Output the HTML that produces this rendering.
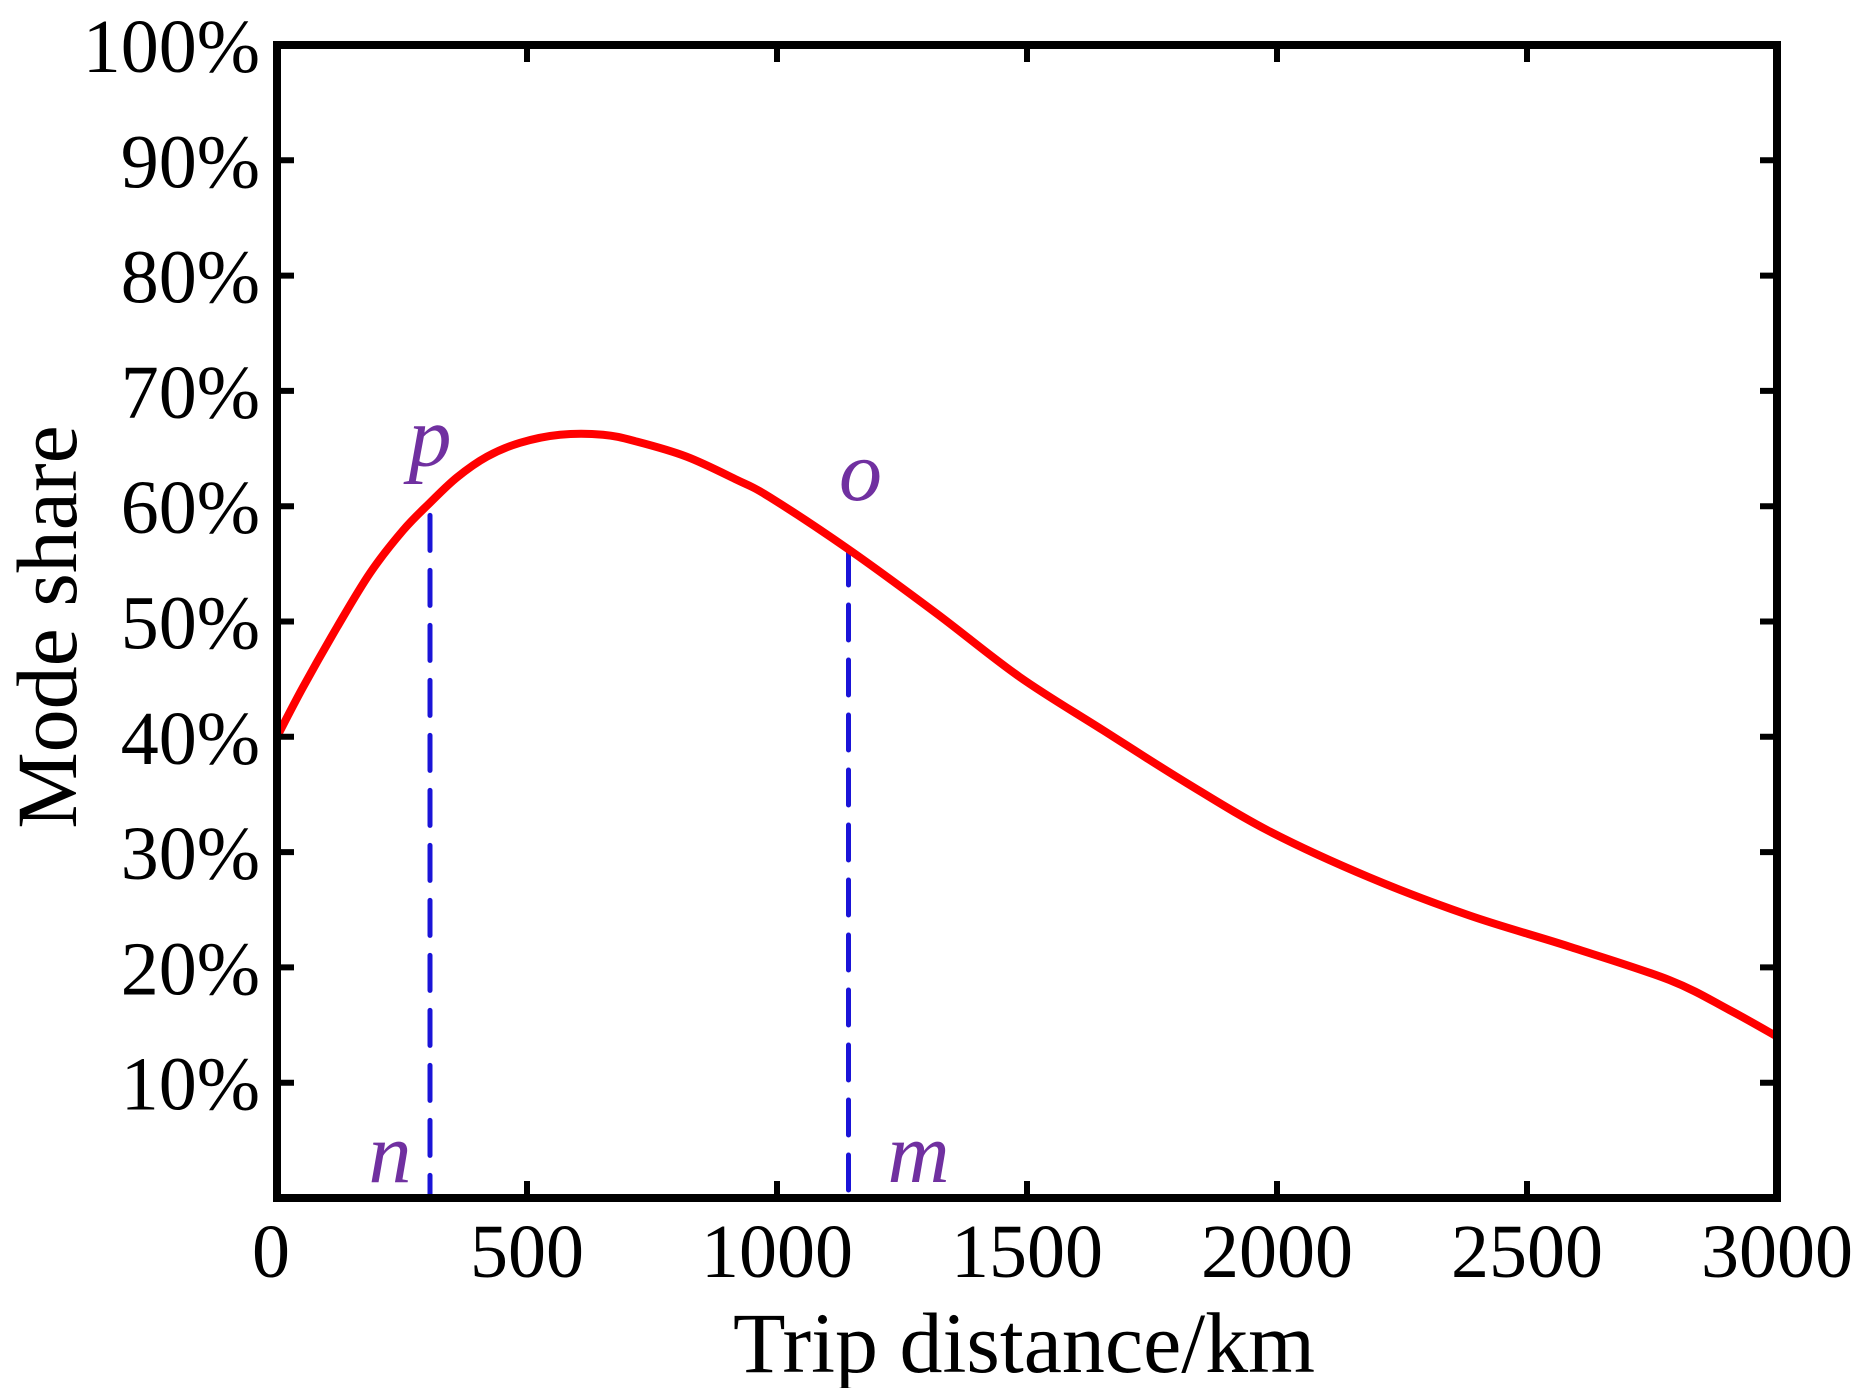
<!DOCTYPE html>
<html><head><meta charset="utf-8"><style>
html,body{margin:0;padding:0;background:#fff;}
svg{display:block;}
text{font-family:"Liberation Serif",serif;}
</style></head><body>
<svg id="chart" width="1866" height="1388" viewBox="0 0 1866 1388" xmlns="http://www.w3.org/2000/svg">
<g id="marks"></g>
<g id="axes"></g>
<text x="0" y="0" font-size="86" text-anchor="middle" transform="translate(76,627) rotate(-90)">Mode share</text>
<text x="1024" y="1372" font-size="86" text-anchor="middle">Trip distance/km</text>
</svg>
<script>
const distances = [0,52,120,186,252,306,360,420,486,566,652,720,819,919,985,1145,1319,1485,1651,1819,1985,2185,2385,2585,2785,2905,3000];
const shares = [40.0,44.3,49.5,54.2,57.9,60.3,62.5,64.3,65.5,66.2,66.2,65.6,64.3,62.3,60.8,56.2,50.7,45.2,40.6,36.0,31.8,27.8,24.5,21.8,18.9,16.3,14.0];
const xTicks = [0,500,1000,1500,2000,2500,3000];
const xTickLabels = ["0","500","1000","1500","2000","2500","3000"];
const yTicks = [10,20,30,40,50,60,70,80,90,100];
const yTickLabels = ["10%","20%","30%","40%","50%","60%","70%","80%","90%","100%"];
const markerX = [306,1143];
const markerTop = [59.2,56.2];
const pointLabels = ["p","o"];
const footLabels = ["n","m"];

const L=277,R=1777,T=45,B=1198;
const X=v=>L+(v-0)/3000*(R-L);
const Y=v=>B-(v/100)*(B-T);
const NS="http://www.w3.org/2000/svg";
const marks=document.getElementById('marks');
const axes=document.getElementById('axes');
function mk(tag,attrs,parent){const e=document.createElementNS(NS,tag);for(const k in attrs)e.setAttribute(k,attrs[k]);parent.appendChild(e);return e;}

markerX.forEach((d,i)=>{
  const l=mk('line',{x1:X(d),x2:X(d),y1:Y(markerTop[i]),y2:B,stroke:'#1a14d8','stroke-width':5,'stroke-dasharray':'35 20','stroke-linecap':'round'},marks);
  
  
});
const pts=distances.map((d,i)=>[X(d),Y(shares[i])]);
let p='M'+pts[0][0]+','+pts[0][1];
for(let i=0;i<pts.length-1;i++){
  const p0=pts[Math.max(i-1,0)],p1=pts[i],p2=pts[i+1],p3=pts[Math.min(i+2,pts.length-1)];
  const c1=[p1[0]+(p2[0]-p0[0])/6,p1[1]+(p2[1]-p0[1])/6];
  const c2=[p2[0]-(p3[0]-p1[0])/6,p2[1]-(p3[1]-p1[1])/6];
  p+=' C'+c1.join(',')+' '+c2.join(',')+' '+p2.join(',');
}
const curve=mk('path',{d:p,fill:'none',stroke:'#ff0000','stroke-width':8,'stroke-linejoin':'round'},marks);



const pl=[[X(markerX[0])+0,Y(markerTop[0])-50],[X(markerX[1])+12,Y(markerTop[1])-50]];
pointLabels.forEach((t,i)=>{
  const e=mk('text',{x:pl[i][0],y:pl[i][1],'font-size':86,'font-style':'italic',fill:'#7030a0','text-anchor':'middle'},marks);
  e.textContent=t;
  
  
});
footLabels.forEach((t,i)=>{
  const x=i===0?X(markerX[0])-40:X(markerX[1])+70;
  const e=mk('text',{x:x,y:1182,'font-size':86,'font-style':'italic',fill:'#7030a0','text-anchor':'middle'},marks);
  e.textContent=t;
  
  
});

const fr=mk('rect',{x:L,y:T,width:R-L,height:B-T,fill:'none',stroke:'#000','stroke-width':8},axes);


yTicks.forEach((v,i)=>{
  const y=Y(v);
  const t1=mk('line',{x1:L,x2:L+17,y1:y,y2:y,stroke:'#000','stroke-width':6},axes);
  
  
  const t2=mk('line',{x1:R-17,x2:R,y1:y,y2:y,stroke:'#000','stroke-width':6},axes);
  
  
  const tx=mk('text',{x:260,y:y+27,'font-size':76,'text-anchor':'end'},axes);
  tx.textContent=yTickLabels[i];
  
  
});
xTicks.forEach((v,i)=>{
  const x=X(v);
  const t1=mk('line',{x1:x,x2:x,y1:B,y2:B-17,stroke:'#000','stroke-width':6},axes);
  
  
  const t2=mk('line',{x1:x,x2:x,y1:T,y2:T+17,stroke:'#000','stroke-width':6},axes);
  
  
  const tx=mk('text',{x:i===0?x-6:x,y:1277,'font-size':76,'text-anchor':'middle'},axes);
  tx.textContent=xTickLabels[i];
  
  
});
</script>
</body></html>
